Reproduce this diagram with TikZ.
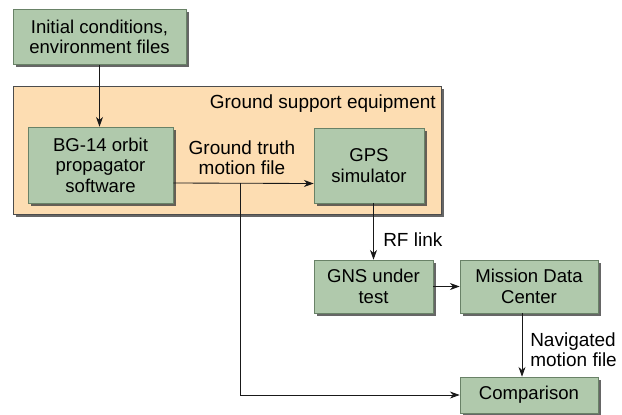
\documentclass[tikz,border=0pt]{standalone}
\usepackage{fontspec}
\setmainfont{Liberation Sans}
\usetikzlibrary{shadows,arrows.meta}

\definecolor{boxgreen}{RGB}{176,201,172}
\definecolor{edgegreen}{RGB}{105,130,103}
\definecolor{gsefill}{RGB}{253,221,178}

\tikzstyle{process} = [rectangle, draw=edgegreen, fill=boxgreen, text centered, align=center,
  font=\fontsize{13.2}{14.5}\selectfont, inner sep=0pt,
  drop shadow={shadow xshift=2pt, shadow yshift=-2pt, opacity=0.8, fill=black!75}]
\tikzstyle{gse} = [rectangle, draw=black!70, fill=gsefill, line width=0.6pt,
  drop shadow={shadow xshift=2pt, shadow yshift=-2pt, opacity=0.8, fill=black!75}]
\tikzstyle{note} = [align=left, font=\fontsize{13.5}{14.5}\selectfont, inner sep=0pt]
\tikzstyle{arrow} = [semithick, black!90, ->, >={Stealth[length=7pt, width=5pt]}]

\begin{document}
\begin{tikzpicture}[x=0.025cm, y=-0.025cm]
\useasboundingbox (0,0) rectangle (622,414);

\node (gse) [gse, minimum width=10.7cm, minimum height=3.2cm] at (227,150) {};
\node (gselabel) [note, anchor=east] at (436,104) {Ground support equipment};

\node (init) [process, minimum width=4.325cm, minimum height=1.375cm] at (99.5,37) {Initial conditions,\\environment files};
\node (bg) [process, minimum width=3.625cm, minimum height=1.9cm] at (100.5,165) {BG-14 orbit\\propagator\\software};
\node (gps) [process, minimum width=2.75cm, minimum height=1.875cm] at (369,165.5) {GPS\\simulator};
\node (gns) [process, minimum width=2.975cm, minimum height=1.325cm] at (373.5,286.5) {GNS under\\test};
\node (mdc) [process, minimum width=3.45cm, minimum height=1.325cm] at (529,286.5) {Mission Data\\Center};
\node (cmp) [process, minimum width=3.45cm, minimum height=0.9cm] at (529,395) {Comparison};

\node (truth) [note, align=center] at (242,158) {Ground truth\\motion file};
\node (rf) [note, anchor=west] at (383,240) {RF link};
\node (nav) [note, anchor=west] at (530,350) {Navigated\\motion file};

\coordinate (split) at (240,183);

\draw [arrow] (init.south) -- (init.south |- bg.north);
\draw [arrow] ([yshift=-0.45cm]bg.east) -- ([yshift=-0.45cm]gps.west);
\draw [arrow] (split) |- (cmp.west);
\draw [arrow] (gns.north |- gps.south) -- (gns.north);
\draw [arrow] (gns.east) -- (mdc.west);
\draw [arrow] ([xshift=-0.175cm]mdc.south) -- ([xshift=-0.175cm]cmp.north);
\end{tikzpicture}
\end{document}
